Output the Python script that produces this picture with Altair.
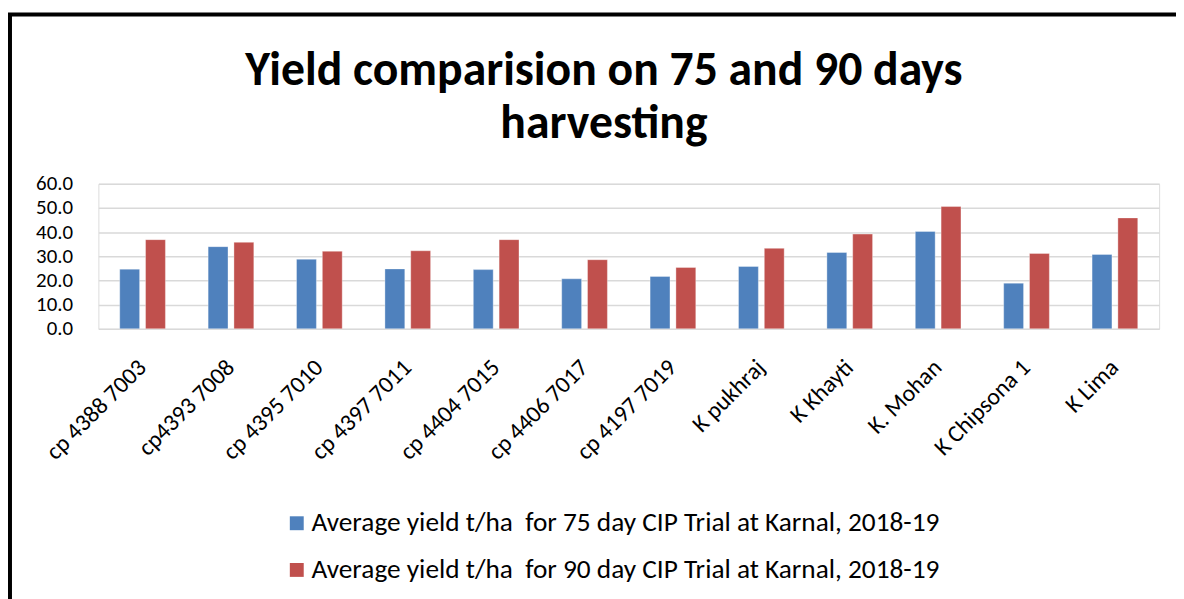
import altair as alt
import pandas as pd

categories = ["cp 4388 7003", "cp4393 7008", "cp 4395 7010", "cp 4397 7011",
              "cp 4404 7015", "cp 4406 7017", "cp 4197 7019", "K pukhraj",
              "K Khayti", "K. Mohan", "K Chipsona 1", "K Lima"]
yield_75 = [24.7, 34.0, 28.8, 24.8, 24.5, 20.7, 21.7, 25.8, 31.6, 40.3, 18.9, 30.8]
yield_90 = [36.9, 35.8, 32.1, 32.3, 36.9, 28.6, 25.4, 33.3, 39.2, 50.6, 31.2, 45.9]
series = ["Average yield t/ha\u00a0 for 75 day CIP Trial at Karnal, 2018-19",
          "Average yield t/ha\u00a0 for 90 day CIP Trial at Karnal, 2018-19"]
colors = ["#4F81BD", "#C0504D"]
y_ticks = [0, 10, 20, 30, 40, 50, 60]
title_lines = ["Yield comparision on 75 and 90 days", "harvesting"]

rows = []
for c, a, b in zip(categories, yield_75, yield_90):
    rows.append({"cat": c, "series": series[0], "value": a})
    rows.append({"cat": c, "series": series[1], "value": b})
df = pd.DataFrame(rows)

FONT = "Calibri, Carlito, Lato"

bars = alt.Chart(df).mark_bar(stroke="white", strokeWidth=1, strokeOpacity=0.35).encode(
    x=alt.X("cat:N", sort=categories, title=None,
            scale=alt.Scale(paddingInner=0.416, paddingOuter=0.208),
            axis=alt.Axis(labelAngle=-45, labelAlign="right", labelBaseline="middle",
                          labelPadding=35, labelOffset=0, ticks=False, domain=False,
                          labelOverlap=False,
                          labelFontSize=24, labelColor="#000000", labelFont=FONT)),
    xOffset=alt.XOffset("series:N", sort=series,
                        scale=alt.Scale(paddingInner=0.23, paddingOuter=0.115)),
    y=alt.Y("value:Q", title=None,
            scale=alt.Scale(domain=[0, 60], nice=False),
            axis=alt.Axis(values=y_ticks, format=".1f", ticks=False, domain=False,
                          labelOverlap=False,
                          gridColor="#D9D9D9", gridWidth=1.5, labelPadding=26,
                          labelFontSize=21, labelColor="#000000", labelFont=FONT)),
    color=alt.Color("series:N", sort=series,
                    scale=alt.Scale(domain=series, range=colors),
                    legend=alt.Legend(title=None, orient="none", legendX=186, legendY=328,
                                      direction="vertical", symbolType="square",
                                      symbolSize=196, symbolStrokeWidth=0, padding=0,
                                      labelFontSize=27.5, labelFont=FONT,
                                      labelColor="#000000", rowPadding=18,
                                      labelOffset=1, labelLimit=900)),
)

border = alt.Chart(pd.DataFrame({"a": [0]})).mark_rect(
    filled=False, stroke="#000000", strokeWidth=4
).encode(
    x=alt.value(-89), x2=alt.value(1200),
    y=alt.value(-170.5), y2=alt.value(600),
)

title = alt.Chart(pd.DataFrame({"t": [title_lines]})).mark_text(
    fontSize=48, fontWeight="bold", font=FONT, color="#000000",
    align="center", baseline="alphabetic", lineHeight=54,
).encode(
    text="t", x=alt.value(509), y=alt.value(-100),
)

chart = alt.layer(border, title, bars).properties(
    width=1068, height=146,
    padding={"left": 91, "top": 175, "right": 17, "bottom": 270},
    autosize=alt.AutoSizeParams(type="none"),
).configure_view(stroke=None).configure(background="white")

chart.save("out.html", embed_options={"renderer": "svg", "actions": False})
